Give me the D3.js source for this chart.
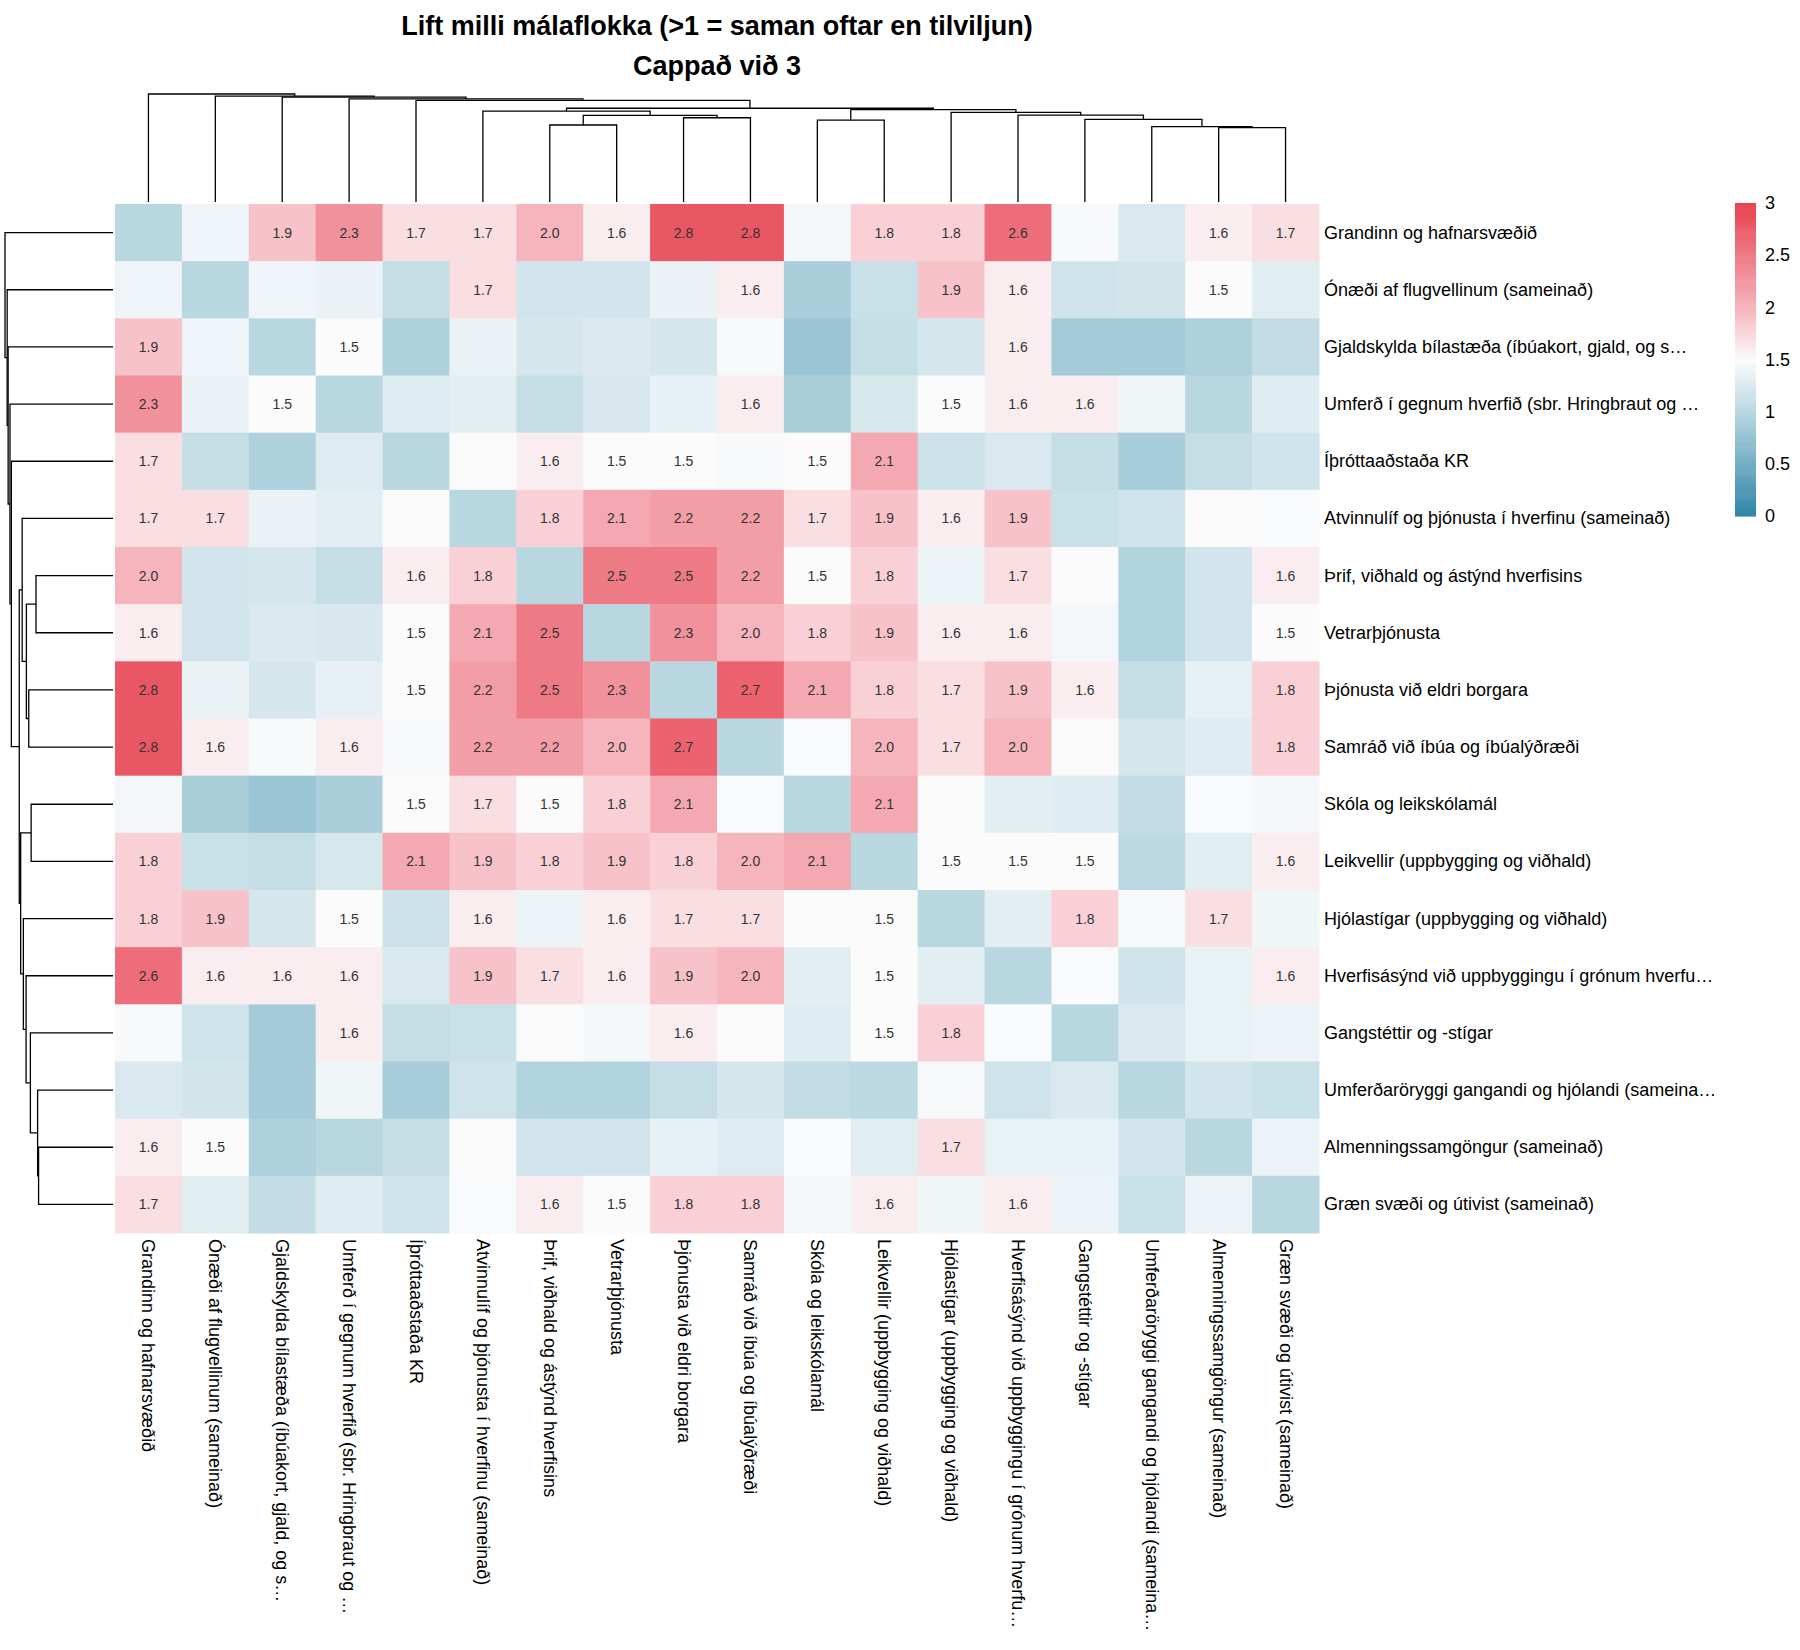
<!doctype html>
<html>
<head>
  <meta charset="utf-8">
  <script src="https://d3js.org/d3.v7.min.js"></script>
  <style>
    body {
      margin: 0;
      background: #fff;
    }
    svg text {
      font-family: "Liberation Sans", Arial, Helvetica, sans-serif;
      fill: #000;
    }
    .dendro path {
      fill: none;
      stroke: #000;
      stroke-width: 1.3;
    }
    .annot {
      fill: #333;
      font-size: 14px;
    }
    .cbar .tick text {
      font-size: 18px;
    }
  </style>
</head>
<body>
<script>
  /* global d3 */

  var titleLines = ["Lift milli málaflokka (>1 = saman oftar en tilviljun)", "Cappað við 3"];

  // same order for rows and columns (clustered order)
  var labels = [
    "Grandinn og hafnarsvæðið",
    "Ónæði af flugvellinum (sameinað)",
    "Gjaldskylda bílastæða (íbúakort, gjald, og s…",
    "Umferð í gegnum hverfið (sbr. Hringbraut og …",
    "Íþróttaaðstaða KR",
    "Atvinnulíf og þjónusta í hverfinu (sameinað)",
    "Þrif, viðhald og ástýnd hverfisins",
    "Vetrarþjónusta",
    "Þjónusta við eldri borgara",
    "Samráð við íbúa og íbúalýðræði",
    "Skóla og leikskólamál",
    "Leikvellir (uppbygging og viðhald)",
    "Hjólastígar (uppbygging og viðhald)",
    "Hverfisásýnd við uppbyggingu í grónum hverfu…",
    "Gangstéttir og -stígar",
    "Umferðaröryggi gangandi og hjólandi (sameina…",
    "Almenningssamgöngur (sameinað)",
    "Græn svæði og útivist (sameinað)"
  ];

  var lift = [
    [1.00, 1.40, 1.9, 2.3, 1.7, 1.7, 2.0, 1.6, 2.8, 2.8, 1.45, 1.8, 1.8, 2.6, 1.47, 1.25, 1.6, 1.7],
    [1.40, 1.00, 1.40, 1.37, 1.10, 1.7, 1.20, 1.20, 1.37, 1.6, 0.90, 1.12, 1.9, 1.6, 1.17, 1.19, 1.5, 1.30],
    [1.9, 1.40, 1.00, 1.5, 0.93, 1.37, 1.22, 1.27, 1.22, 1.47, 0.78, 1.10, 1.22, 1.6, 0.86, 0.86, 0.93, 1.07],
    [2.3, 1.37, 1.5, 1.00, 1.28, 1.32, 1.10, 1.24, 1.35, 1.6, 0.90, 1.23, 1.5, 1.6, 1.6, 1.42, 1.00, 1.29],
    [1.7, 1.10, 0.93, 1.28, 1.00, 1.49, 1.6, 1.5, 1.5, 1.47, 1.5, 2.1, 1.15, 1.25, 1.10, 0.88, 1.10, 1.18],
    [1.7, 1.7, 1.37, 1.32, 1.49, 1.00, 1.8, 2.1, 2.2, 2.2, 1.7, 1.9, 1.6, 1.9, 1.12, 1.17, 1.49, 1.48],
    [2.0, 1.20, 1.22, 1.10, 1.6, 1.8, 1.00, 2.5, 2.5, 2.2, 1.5, 1.8, 1.39, 1.7, 1.49, 0.96, 1.20, 1.6],
    [1.6, 1.20, 1.27, 1.24, 1.5, 2.1, 2.5, 1.00, 2.3, 2.0, 1.8, 1.9, 1.6, 1.6, 1.45, 0.96, 1.20, 1.5],
    [2.8, 1.37, 1.22, 1.35, 1.5, 2.2, 2.5, 2.3, 1.00, 2.7, 2.1, 1.8, 1.7, 1.9, 1.6, 1.10, 1.35, 1.8],
    [2.8, 1.6, 1.47, 1.6, 1.47, 2.2, 2.2, 2.0, 2.7, 1.00, 1.48, 2.0, 1.7, 2.0, 1.49, 1.22, 1.28, 1.8],
    [1.45, 0.90, 0.78, 0.90, 1.5, 1.7, 1.5, 1.8, 2.1, 1.48, 1.00, 2.1, 1.49, 1.32, 1.29, 1.07, 1.48, 1.45],
    [1.8, 1.12, 1.10, 1.23, 2.1, 1.9, 1.8, 1.9, 1.8, 2.0, 2.1, 1.00, 1.5, 1.5, 1.5, 1.03, 1.30, 1.6],
    [1.8, 1.9, 1.22, 1.5, 1.15, 1.6, 1.39, 1.6, 1.7, 1.7, 1.49, 1.5, 1.00, 1.32, 1.8, 1.46, 1.7, 1.42],
    [2.6, 1.6, 1.6, 1.6, 1.25, 1.9, 1.7, 1.6, 1.9, 2.0, 1.32, 1.5, 1.32, 1.00, 1.48, 1.17, 1.36, 1.6],
    [1.47, 1.17, 0.86, 1.6, 1.10, 1.12, 1.49, 1.45, 1.6, 1.49, 1.29, 1.5, 1.8, 1.48, 1.00, 1.25, 1.36, 1.39],
    [1.25, 1.19, 0.86, 1.42, 0.88, 1.17, 0.96, 0.96, 1.10, 1.22, 1.07, 1.03, 1.46, 1.17, 1.25, 1.00, 1.20, 1.12],
    [1.6, 1.5, 0.93, 1.00, 1.10, 1.49, 1.20, 1.20, 1.35, 1.28, 1.48, 1.30, 1.7, 1.36, 1.36, 1.20, 1.00, 1.39],
    [1.7, 1.30, 1.07, 1.29, 1.18, 1.48, 1.6, 1.5, 1.8, 1.8, 1.45, 1.6, 1.42, 1.6, 1.39, 1.12, 1.39, 1.00]
  ];

  // linkage: [child a, child b, height]; leaves 0..17, merged nodes 18..
  var linkage = [
    [16, 17, 0.689],
    [15, 18, 0.698],
    [14, 19, 0.765],
    [13, 20, 0.805],
    [12, 21, 0.830],
    [10, 11, 0.758],
    [23, 22, 0.855],
    [6, 7, 0.713],
    [8, 9, 0.780],
    [25, 26, 0.802],
    [5, 27, 0.841],
    [28, 24, 0.868],
    [4, 29, 0.941],
    [3, 30, 0.954],
    [2, 31, 0.971],
    [1, 32, 0.980],
    [0, 33, 1.000]
  ];

  var colorStops = [0, 0.5, 1, 1.5, 2, 2.5, 3];
  var colorRange = ["#2f85a8", "#73adc5", "#b8d7e1", "#fbfbfc", "#f6b4bc", "#ee7a85", "#e8404e"];
  var colorTicks = [0, 0.5, 1, 1.5, 2, 2.5, 3];
  var annotMin = 1.5;

  var svg = d3.select("body").append("svg")
    .attr("width", 1800)
    .attr("height", 1650);

  var heat = { left: 115, right: 1319, top: 204, bottom: 1233 };
  var n = labels.length;

  var x = d3.scaleBand().domain(d3.range(n)).range([heat.left, heat.right]);
  var y = d3.scaleBand().domain(d3.range(n)).range([heat.top, heat.bottom]);
  var color = d3.scaleLinear().domain(colorStops).range(colorRange).clamp(true);

  // title
  svg.selectAll("text.title")
    .data(titleLines)
    .enter().append("text")
    .attr("class", "title")
    .attr("x", (heat.left + heat.right) / 2)
    .attr("y", function (d, i) { return 35 + i * 40; })
    .attr("text-anchor", "middle")
    .style("font-size", "27px")
    .style("font-weight", "bold")
    .text(function (d) { return d; });

  // cells
  var cells = [];
  lift.forEach(function (row, i) {
    row.forEach(function (v, j) {
      cells.push({ r: i, c: j, v: v });
    });
  });

  svg.append("g").selectAll("rect")
    .data(cells)
    .enter().append("rect")
    .attr("x", function (d) { return x(d.c); })
    .attr("y", function (d) { return y(d.r); })
    .attr("width", x.bandwidth() + 0.5)
    .attr("height", y.bandwidth() + 0.5)
    .attr("fill", function (d) { return color(d.v); });

  svg.append("g").selectAll("text")
    .data(cells.filter(function (d) { return d.r !== d.c && d.v >= annotMin; }))
    .enter().append("text")
    .attr("class", "annot")
    .attr("x", function (d) { return x(d.c) + x.bandwidth() / 2; })
    .attr("y", function (d) { return y(d.r) + y.bandwidth() / 2; })
    .attr("text-anchor", "middle")
    .attr("dominant-baseline", "central")
    .text(function (d) { return d3.format(".1f")(d.v); });

  // row labels (right)
  svg.append("g").selectAll("text")
    .data(labels)
    .enter().append("text")
    .attr("x", heat.right + 5)
    .attr("y", function (d, i) { return y(i) + y.bandwidth() / 2; })
    .attr("dominant-baseline", "central")
    .style("font-size", "18px")
    .text(function (d) { return d; });

  // column labels (bottom, rotated)
  svg.append("g").selectAll("text")
    .data(labels)
    .enter().append("text")
    .attr("transform", function (d, i) {
      return "translate(" + (x(i) + x.bandwidth() / 2) + "," + (heat.bottom + 6) + ") rotate(90)";
    })
    .attr("dominant-baseline", "central")
    .style("font-size", "18px")
    .text(function (d) { return d; });

  // dendrograms
  function buildLinks () {
    var nodes = labels.map(function (d, i) { return { pos: i, h: 0 }; });
    var links = [];
    linkage.forEach(function (l) {
      var a = nodes[l[0]], b = nodes[l[1]];
      links.push({ a: a, b: b, h: l[2] });
      nodes.push({ pos: (a.pos + b.pos) / 2, h: l[2] });
    });
    return links;
  }
  var links = buildLinks();
  var maxH = d3.max(linkage, function (l) { return l[2]; });

  var posX = d3.scaleLinear().domain([0, n - 1]).range([x(0) + x.bandwidth() / 2, x(n - 1) + x.bandwidth() / 2]);
  var posY = d3.scaleLinear().domain([0, n - 1]).range([y(0) + y.bandwidth() / 2, y(n - 1) + y.bandwidth() / 2]);
  var hTop = d3.scaleLinear().domain([0, maxH]).range([heat.top - 2, 94]);
  var hLeft = d3.scaleLinear().domain([0, maxH]).range([heat.left - 2, 5]);

  svg.append("g").attr("class", "dendro").selectAll("path")
    .data(links)
    .enter().append("path")
    .attr("d", function (d) {
      var p = d3.path();
      p.moveTo(posX(d.a.pos), hTop(d.a.h));
      p.lineTo(posX(d.a.pos), hTop(d.h));
      p.lineTo(posX(d.b.pos), hTop(d.h));
      p.lineTo(posX(d.b.pos), hTop(d.b.h));
      return p.toString();
    });

  svg.append("g").attr("class", "dendro").selectAll("path")
    .data(links)
    .enter().append("path")
    .attr("d", function (d) {
      var p = d3.path();
      p.moveTo(hLeft(d.a.h), posY(d.a.pos));
      p.lineTo(hLeft(d.h), posY(d.a.pos));
      p.lineTo(hLeft(d.h), posY(d.b.pos));
      p.lineTo(hLeft(d.b.h), posY(d.b.pos));
      return p.toString();
    });

  // colorbar
  var cb = { left: 1735, width: 21, top: 203, bottom: 516 };
  var cbY = d3.scaleLinear().domain([0, 3]).range([cb.bottom, cb.top]);
  var steps = d3.range(0, 3, 0.01);

  var cbar = svg.append("g").attr("class", "cbar");
  cbar.selectAll("rect")
    .data(steps)
    .enter().append("rect")
    .attr("x", cb.left)
    .attr("width", cb.width)
    .attr("y", function (d) { return cbY(d + 0.01); })
    .attr("height", function (d) { return cbY(d) - cbY(d + 0.01) + 0.6; })
    .attr("fill", function (d) { return color(d + 0.005); });

  cbar.append("g")
    .attr("transform", "translate(" + (cb.left + cb.width) + ",0)")
    .call(d3.axisRight(cbY).tickValues(colorTicks).tickSize(0).tickPadding(9).tickFormat(d3.format("~g")))
    .call(function (g) { g.select(".domain").remove(); });
</script>
</body>
</html>
